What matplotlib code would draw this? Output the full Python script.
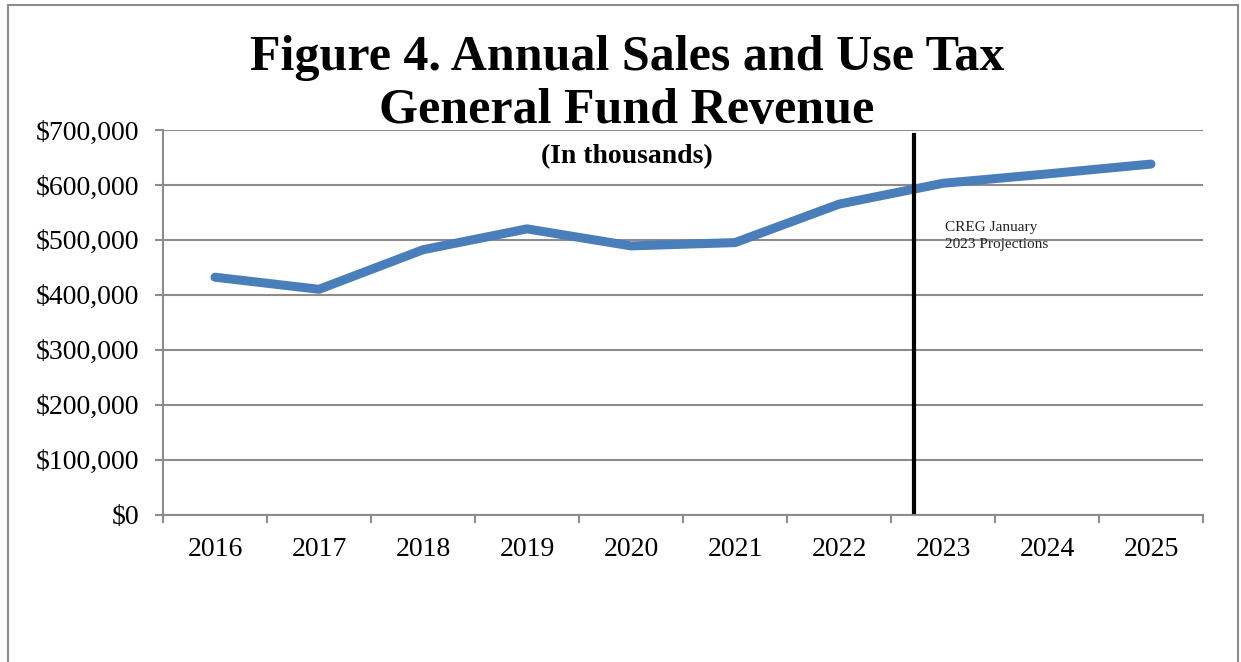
import matplotlib
matplotlib.use("Agg")
import matplotlib.pyplot as plt
from matplotlib.patches import Rectangle
from matplotlib.ticker import FuncFormatter, FixedLocator

# Sales and use tax general fund revenue, in thousands of dollars
years = ["2016", "2017", "2018", "2019", "2020", "2021", "2022", "2023", "2024", "2025"]
revenue = [432000, 410000, 482000, 520000, 489000, 495000, 565000, 603000, 620000, 638000]
y_ticks = [0, 100000, 200000, 300000, 400000, 500000, 600000, 700000]
projection_start = 6.72  # boundary between actuals and projections (category units)

plt.rcParams["font.family"] = ["Liberation Serif", "DejaVu Serif"]

W, H, DPI = 1241, 662, 100
fig = plt.figure(figsize=(W / DPI, H / DPI), dpi=DPI)

# outer chart frame
fig.patches.append(Rectangle((8 / W, -0.05), (1238 - 8) / W, (H - 5) / H + 0.05,
                             transform=fig.transFigure, fill=False,
                             edgecolor="#8c8c8c", linewidth=1.5, zorder=0))

ax = fig.add_axes([163 / W, (H - 514.5) / H, 1040 / W, 384.5 / H])

x = list(range(len(years)))
ax.plot(x, revenue, color="#4a7ebb", linewidth=6.5, solid_capstyle="round",
        solid_joinstyle="round", zorder=3)

ax.set_xlim(-0.5, len(years) - 0.5)
ax.set_ylim(0, 700000)

ax.set_yticks(y_ticks)
ax.yaxis.set_major_formatter(FuncFormatter(lambda v, p: f"${v:,.0f}"))
ax.set_xticks(x)
ax.set_xticklabels(years)
ax.xaxis.set_minor_locator(FixedLocator([i - 0.5 for i in range(len(years) + 1)]))

ax.grid(axis="y", color="#8c8c8c", linewidth=1.5, zorder=1)
for s in ("top", "right"):
    ax.spines[s].set_visible(False)
for s in ("left", "bottom"):
    ax.spines[s].set_color("#8c8c8c")
    ax.spines[s].set_linewidth(1.5)

ax.tick_params(axis="y", which="major", length=6, width=1.5, color="#8c8c8c",
               labelsize=20, pad=11, labelcolor="black")
ax.tick_params(axis="x", which="major", length=0, labelsize=20, pad=16,
               labelcolor="black")
ax.tick_params(axis="x", which="minor", length=6, width=1.5, color="#8c8c8c")

# projections divider
ax.axvline(projection_start, ymin=0.006, ymax=0.987, color="black",
           linewidth=3.0, zorder=4)
ax.text(7.02, 535000, "CREG January\n2023 Projections", fontsize=11,
        va="top", ha="left", color="#222222", linespacing=1.45)

# titles
fig.text(627 / W, 1 - 58 / H, "Figure 4. Annual Sales and Use Tax",
         ha="center", va="center", fontsize=36, fontweight="bold")
fig.text(627 / W, 1 - 111 / H, "General Fund Revenue",
         ha="center", va="center", fontsize=36, fontweight="bold")
fig.text(627 / W, 1 - 157 / H, "(In thousands)",
         ha="center", va="center", fontsize=20, fontweight="bold")

fig.savefig("out.png", dpi=DPI, facecolor="white")
